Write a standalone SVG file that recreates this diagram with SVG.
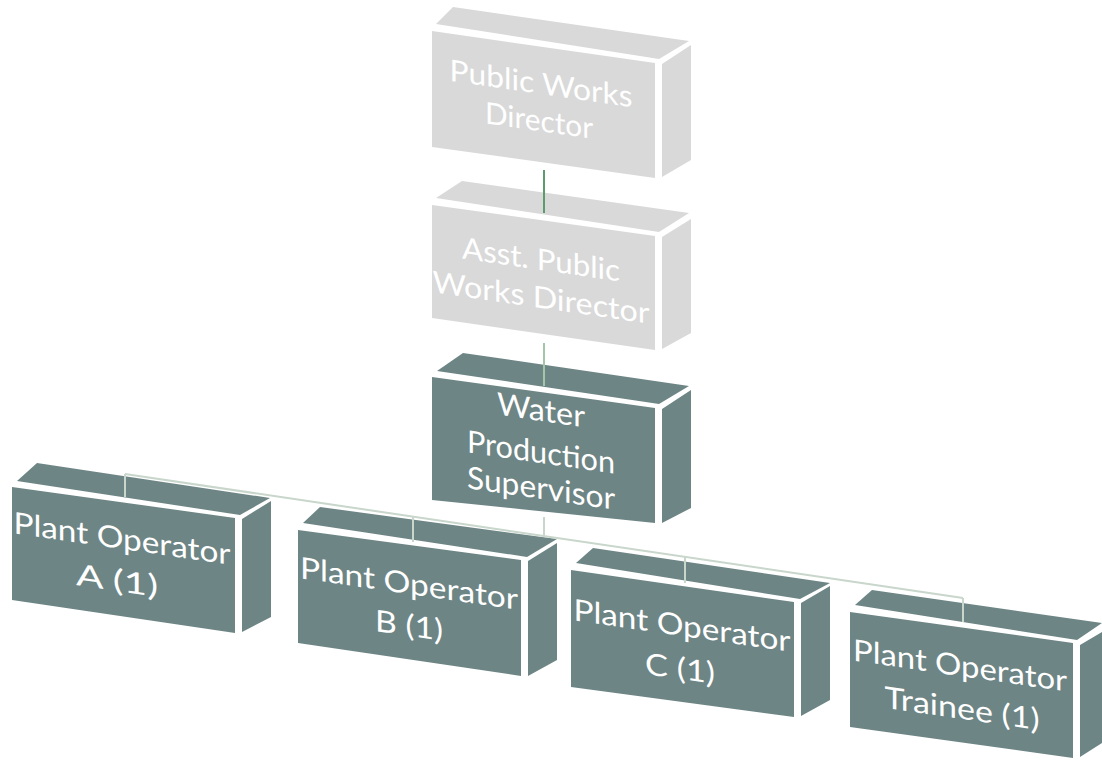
<svg xmlns="http://www.w3.org/2000/svg" width="1102" height="761" viewBox="0 0 1102 761">
<style>
.lt{fill:#d9d9d9}
.dk{fill:#6e8585}
.t{font-family:Lato,"Liberation Sans",sans-serif;font-size:30px;font-weight:400;fill:#ffffff;text-anchor:middle}
.t3{font-size:31px}
.c{fill:none;stroke-width:2}
</style>
<rect width="1102" height="761" fill="#ffffff"/>
<g id="n1">
<polygon class="lt" points="436,24 453,7 689,41 659,59"/>
<polygon class="lt" points="432,31 655,63 655,178 432,147"/>
<polygon class="lt" points="662,64 691,45 691,160 662,177"/>
<text class="t" transform="matrix(1,0.145,0,1,541,94)" textLength="183" lengthAdjust="spacingAndGlyphs">Public Works</text>
<text class="t" transform="matrix(1,0.145,0,1,539,131)" textLength="108" lengthAdjust="spacingAndGlyphs">Director</text>
</g>
<g id="n2">
<polygon class="lt" points="436,198 462,181 689,213 659,232"/>
<polygon class="lt" points="432,205 655,236 655,350 432,318"/>
<polygon class="lt" points="662,237 691,219 691,333 662,349"/>
<text class="t" transform="matrix(1,0.145,0,1,541,270)" textLength="158" lengthAdjust="spacingAndGlyphs">Asst. Public</text>
<text class="t" transform="matrix(1,0.145,0,1,541,308)" textLength="217" lengthAdjust="spacingAndGlyphs">Works Director</text>
</g>
<g id="n3">
<polygon class="dk" points="437,371 463,353 689,386 659,404"/>
<polygon class="dk" points="432,377 655,408 655,523 432,500"/>
<polygon class="dk" points="662,409 691,390 691,508 662,523"/>
<text class="t t3" transform="matrix(1,0.145,0,1,541,421)" textLength="88" lengthAdjust="spacingAndGlyphs">Water</text>
<text class="t t3" transform="matrix(1,0.145,0,1,541,463)" textLength="148" lengthAdjust="spacingAndGlyphs">Production</text>
<text class="t t3" transform="matrix(1,0.145,0,1,541,499)" textLength="148" lengthAdjust="spacingAndGlyphs">Supervisor</text>
</g>
<g id="nA">
<polygon class="dk" points="17,481 37,463 270,498 240,515"/>
<polygon class="dk" points="12,487 235,518 235,633 12,600"/>
<polygon class="dk" points="242,519 271,501 271,617 242,632"/>
<text class="t" transform="matrix(1,0.145,0,1,122,549)" textLength="217" lengthAdjust="spacingAndGlyphs">Plant Operator</text>
<text class="t" transform="matrix(1,0.145,0,1,117,591)" textLength="82" lengthAdjust="spacingAndGlyphs">A (1)</text>
</g>
<g id="nB">
<polygon class="dk" points="303,523 320,507 557,539 527,557"/>
<polygon class="dk" points="298,530 521,560 521,676 298,643"/>
<polygon class="dk" points="528,561 557,543 557,660 528,676"/>
<text class="t" transform="matrix(1,0.145,0,1,409,594)" textLength="218" lengthAdjust="spacingAndGlyphs">Plant Operator</text>
<text class="t" transform="matrix(1,0.145,0,1,409,636)" textLength="68" lengthAdjust="spacingAndGlyphs">B (1)</text>
</g>
<g id="nC">
<polygon class="dk" points="576,563 593,548 830,583 800,599"/>
<polygon class="dk" points="571,570 794,602 794,717 571,687"/>
<polygon class="dk" points="801,603 830,586 830,700 801,716"/>
<text class="t" transform="matrix(1,0.145,0,1,682,636)" textLength="217" lengthAdjust="spacingAndGlyphs">Plant Operator</text>
<text class="t" transform="matrix(1,0.145,0,1,680,679)" textLength="70" lengthAdjust="spacingAndGlyphs">C (1)</text>
</g>
<g id="nD">
<polygon class="dk" points="855,605 872,590 1102,623 1077,640"/>
<polygon class="dk" points="850,612 1073,643 1073,758 850,727"/>
<polygon class="dk" points="1080,645 1102,632 1102,743 1080,757"/>
<text class="t" transform="matrix(1,0.145,0,1,960,676)" textLength="214" lengthAdjust="spacingAndGlyphs">Plant Operator</text>
<text class="t" transform="matrix(1,0.145,0,1,962,719)" textLength="155" lengthAdjust="spacingAndGlyphs">Trainee (1)</text>
</g>
<g id="connectors">
<line class="c" x1="544" y1="170" x2="544" y2="213" stroke="#5e9a6c"/>
<line class="c" x1="544" y1="343" x2="544" y2="386" stroke="#a3c7a6"/>
<g stroke="#c8d6cc">
<line class="c" x1="544" y1="517" x2="544" y2="536"/>
<line class="c" x1="125" y1="474" x2="963" y2="598" stroke-width="2.5"/>
<line class="c" x1="125" y1="474" x2="125" y2="497"/>
<line class="c" x1="413" y1="517" x2="413" y2="542"/>
<line class="c" x1="685" y1="557" x2="685" y2="583"/>
<line class="c" x1="963" y1="598" x2="963" y2="622"/>
</g>
</g>
</svg>
